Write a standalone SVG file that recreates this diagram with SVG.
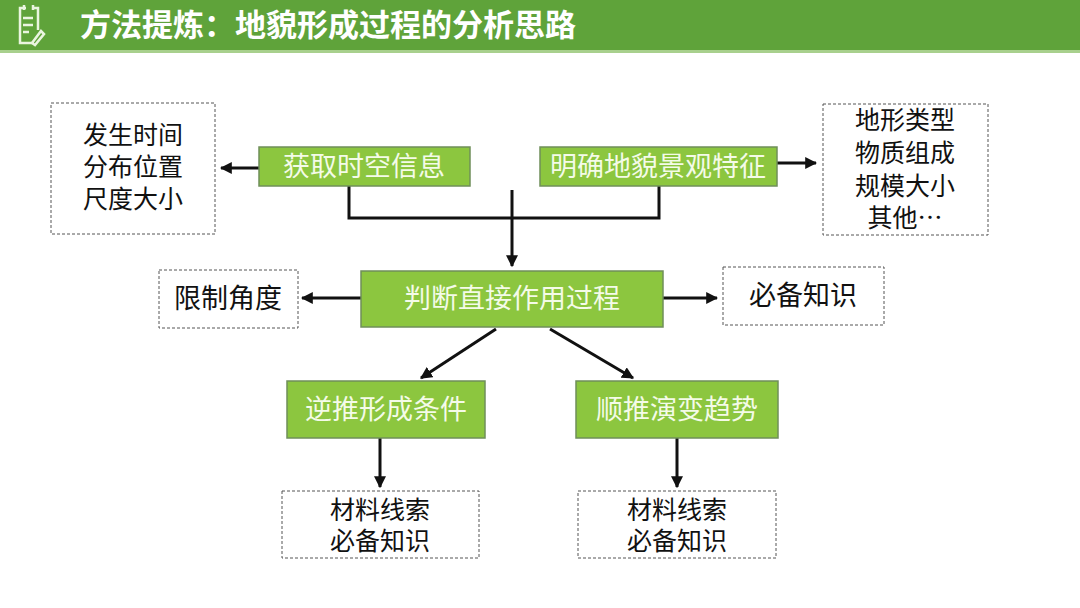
<svg xmlns="http://www.w3.org/2000/svg" width="1080" height="608" viewBox="0 0 1080 608">
<style>
text{font-family:"Noto Sans CJK SC","Liberation Sans",sans-serif;font-size:27px;text-anchor:middle}
.m{font-size:25px}
.g{fill:#8cc63f;stroke:#6f8f5a;stroke-width:1.5}
.gt{fill:#f4fbe8}
.d{fill:#fff;stroke:#555;stroke-width:1;stroke-dasharray:3 2}
.dt{fill:#111}
.c{stroke:#111;stroke-width:3;fill:none}
</style>
<defs><marker id="a" viewBox="0 0 10 10" refX="9" refY="5" markerWidth="4" markerHeight="4" orient="auto"><path d="M0,0L10,5L0,10z" fill="#111"/></marker></defs>
<rect width="1080" height="608" fill="#fff"/>
<g id="header">
<rect x="0" y="0" width="1080" height="50" fill="#5fa33a"/>
<rect x="0" y="50" width="1080" height="3" fill="#a8d08d"/>
<g fill="none" stroke="#eaf5e0" stroke-width="2.5"><path d="M26,8h-6v35h14M38,30V8h-6"/><path d="M24,5v5M33,5v5M23,18h10M23,25h10M23,32h6"/><path d="M32,43l9,-12l3,3l-9,11z"/></g>
<text x="80" y="36" style="font-size:31px;font-weight:bold;text-anchor:start" fill="#fff">方法提炼：地貌形成过程的分析思路</text>
</g>
<g id="connectors">
<path class="c" d="M349,186V218H659V186"/>
<path class="c" marker-end="url(#a)" d="M512,190V266"/>
<path class="c" marker-end="url(#a)" d="M259,168H221"/>
<path class="c" marker-end="url(#a)" d="M777,163H816"/>
<path class="c" marker-end="url(#a)" d="M361,298H302"/>
<path class="c" marker-end="url(#a)" d="M663,298H717"/>
<path class="c" marker-end="url(#a)" d="M496,329L421,378"/>
<path class="c" marker-end="url(#a)" d="M550,329L633,378"/>
<path class="c" marker-end="url(#a)" d="M380,438V487"/>
<path class="c" marker-end="url(#a)" d="M677,438V487"/>
</g>
<g id="n1"><rect class="d" x="51" y="103" width="164" height="131"/><text class="dt m" x="133" y="144">发生时间</text><text class="dt m" x="133" y="176">分布位置</text><text class="dt m" x="133" y="208">尺度大小</text></g>
<g id="n2"><rect class="g" x="259" y="147" width="211" height="39"/><text class="gt" x="364" y="176">获取时空信息</text></g>
<g id="n3"><rect class="g" x="540" y="147" width="237" height="39"/><text class="gt" x="658" y="176">明确地貌景观特征</text></g>
<g id="n4"><rect class="d" x="823" y="104" width="165" height="131"/><text class="dt m" x="905" y="129">地形类型</text><text class="dt m" x="905" y="162">物质组成</text><text class="dt m" x="905" y="195">规模大小</text><text class="dt m" x="905" y="227">其他…</text></g>
<g id="n5"><rect class="g" x="361" y="271" width="302" height="56"/><text class="gt" x="512" y="308">判断直接作用过程</text></g>
<g id="n6"><rect class="d" x="159" y="270" width="139" height="58"/><text class="dt" x="228" y="308">限制角度</text></g>
<g id="n7"><rect class="d" x="723" y="267" width="161" height="58"/><text class="dt" x="803" y="305">必备知识</text></g>
<g id="n8"><rect class="g" x="287" y="381" width="198" height="57"/><text class="gt" x="386" y="419">逆推形成条件</text></g>
<g id="n9"><rect class="g" x="576" y="381" width="202" height="57"/><text class="gt" x="677" y="419">顺推演变趋势</text></g>
<g id="n10"><rect class="d" x="282" y="491" width="197" height="67"/><text class="dt m" x="380" y="519">材料线索</text><text class="dt m" x="380" y="550">必备知识</text></g>
<g id="n11"><rect class="d" x="578" y="491" width="198" height="67"/><text class="dt m" x="677" y="519">材料线索</text><text class="dt m" x="677" y="550">必备知识</text></g>
</svg>
